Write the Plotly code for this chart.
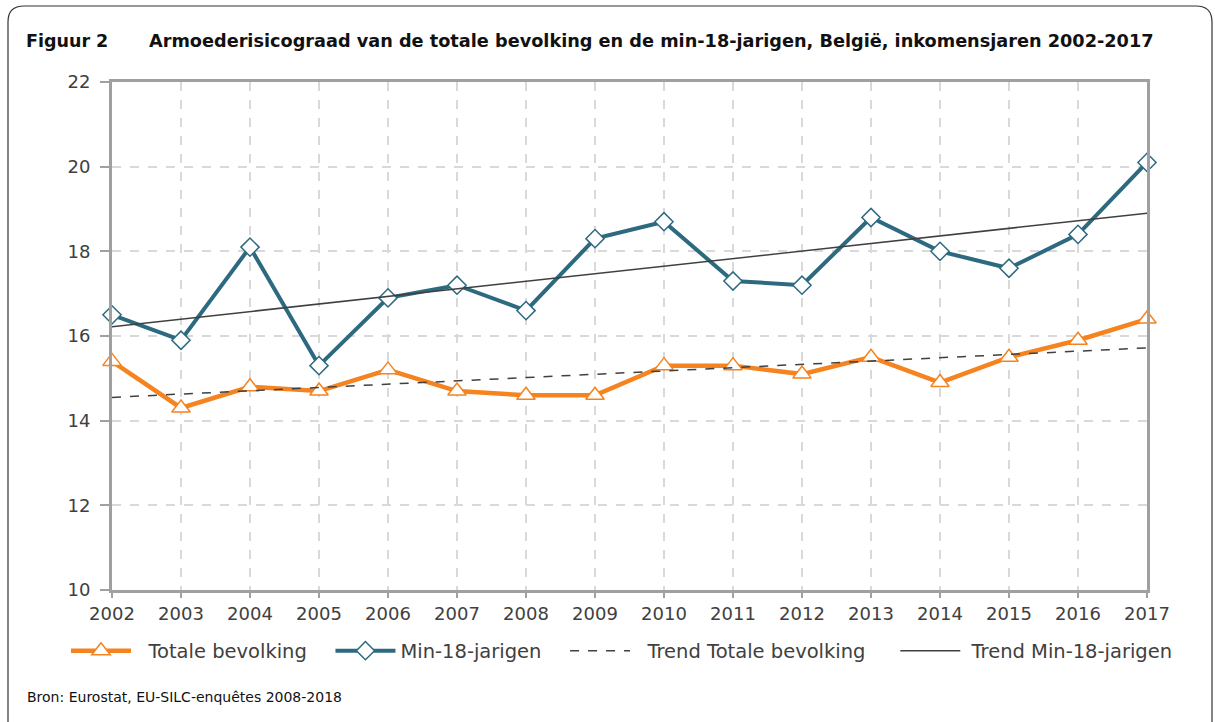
import plotly.graph_objects as go

years = list(range(2002, 2018))
totale = [15.4, 14.3, 14.8, 14.7, 15.2, 14.7, 14.6, 14.6, 15.3, 15.3, 15.1, 15.5, 14.9, 15.5, 15.9, 16.4]
min18 = [16.5, 15.9, 18.1, 15.3, 16.9, 17.2, 16.6, 18.3, 18.7, 17.3, 17.2, 18.8, 18.0, 17.6, 18.4, 20.1]
trend_years = [2002, 2017]
trend_totale = [14.55, 15.72]
trend_min18 = [16.22, 18.90]

title_label = "Figuur 2"
title_text = "Armoederisicograad van de totale bevolking en de min-18-jarigen, België, inkomensjaren 2002-2017"
source_text = "Bron: Eurostat, EU-SILC-enquêtes 2008-2018"
series_names = ["Totale bevolking", "Min-18-jarigen", "Trend Totale bevolking", "Trend Min-18-jarigen"]

ORANGE = "#F5831F"
TEAL = "#2D6A80"
DARK = "#404040"
AXIS = "#A0A0A0"
FONT = "DejaVu Sans"
NB = "\u00a0"

W, H = 1215, 722
L, R, T, B = 112, 68, 82, 132
pw, ph = W - L - R, H - T - B

def px(x):
    return (x - L) / pw

def py(y):
    return (H - B - y) / ph

fig = go.Figure()
fig.add_trace(go.Scatter(x=years, y=totale, name=NB * 2 + series_names[0] + NB * 3, mode="lines+markers",
                         line=dict(color=ORANGE, width=4.5), cliponaxis=False,
                         marker=dict(symbol="triangle-up", size=16, color="white",
                                     line=dict(color=ORANGE, width=1.5))))
fig.add_trace(go.Scatter(x=years, y=min18, name=series_names[1] + NB * 3, mode="lines+markers",
                         line=dict(color=TEAL, width=4), cliponaxis=False,
                         marker=dict(symbol="diamond", size=14, color="white",
                                     line=dict(color=TEAL, width=1.5))))
fig.add_trace(go.Scatter(x=trend_years, y=trend_totale, name=NB * 2 + series_names[2] + NB * 4, mode="lines",
                         line=dict(color=DARK, width=1.5, dash="dash")))
fig.add_trace(go.Scatter(x=trend_years, y=trend_min18, name=NB + series_names[3], mode="lines",
                         line=dict(color=DARK, width=1.5)))

# rounded frame around figure
x0, x1, y0, y1, r = px(8), px(1212), py(6), py(740), 16
rx, ry = r / pw, r / ph
path = (f"M {x0+rx},{y0} L {x1-rx},{y0} Q {x1},{y0} {x1},{y0-ry} "
        f"L {x1},{y1+ry} Q {x1},{y1} {x1-rx},{y1} L {x0+rx},{y1} Q {x0},{y1} {x0},{y1+ry} "
        f"L {x0},{y0-ry} Q {x0},{y0} {x0+rx},{y0} Z")
fig.add_shape(type="path", xref="paper", yref="paper", path=path,
              line=dict(color="#333333", width=1.2), fillcolor="rgba(0,0,0,0)", layer="below")

fig.add_annotation(text=f"<b>{title_label}</b>", xref="paper", yref="paper", x=px(24), y=py(41),
                   xanchor="left", yanchor="middle", showarrow=False,
                   font=dict(family=FONT, size=17.5, color="#111111"))
fig.add_annotation(text=f"<b>{title_text}</b>", xref="paper", yref="paper", x=px(147), y=py(41),
                   xanchor="left", yanchor="middle", showarrow=False,
                   font=dict(family=FONT, size=17.7, color="#111111"))
fig.add_annotation(text=source_text, xref="paper", yref="paper", x=px(25), y=py(697),
                   xanchor="left", yanchor="middle", showarrow=False,
                   font=dict(family=FONT, size=14, color="#111111"))

fig.update_layout(
    width=W, height=H,
    margin=dict(l=L, r=R, t=T, b=B),
    paper_bgcolor="white", plot_bgcolor="white",
    font=dict(family=FONT, color=DARK),
    showlegend=True,
    legend=dict(orientation="h", x=px(66), y=py(651), xanchor="left", yanchor="middle",
                font=dict(family=FONT, size=19.5, color=DARK), itemwidth=60,
                tracegroupgap=0, bgcolor="rgba(0,0,0,0)"),
)
fig.update_xaxes(range=[2002, 2017], tickmode="linear", dtick=1, showgrid=True,
                 gridcolor="#D9D9D9", griddash="dash", gridwidth=1.5,
                 showline=True, linecolor=AXIS, linewidth=3, mirror=True,
                 ticks="outside", ticklen=5, tickcolor=AXIS, tickwidth=2,
                 tickfont=dict(family=FONT, size=18, color=DARK), zeroline=False)
fig.update_yaxes(range=[10, 22], tickmode="linear", dtick=2, showgrid=True,
                 gridcolor="#D9D9D9", griddash="dash", gridwidth=1.5,
                 showline=True, linecolor=AXIS, linewidth=3, mirror=True,
                 ticks="outside", ticklen=9, tickcolor=AXIS, tickwidth=2,
                 ticklabelstandoff=6,
                 tickfont=dict(family=FONT, size=18, color=DARK), zeroline=False)

fig.write_html("out.html", config={"displayModeBar": False},
               post_script="document.body.style.margin='0';")
